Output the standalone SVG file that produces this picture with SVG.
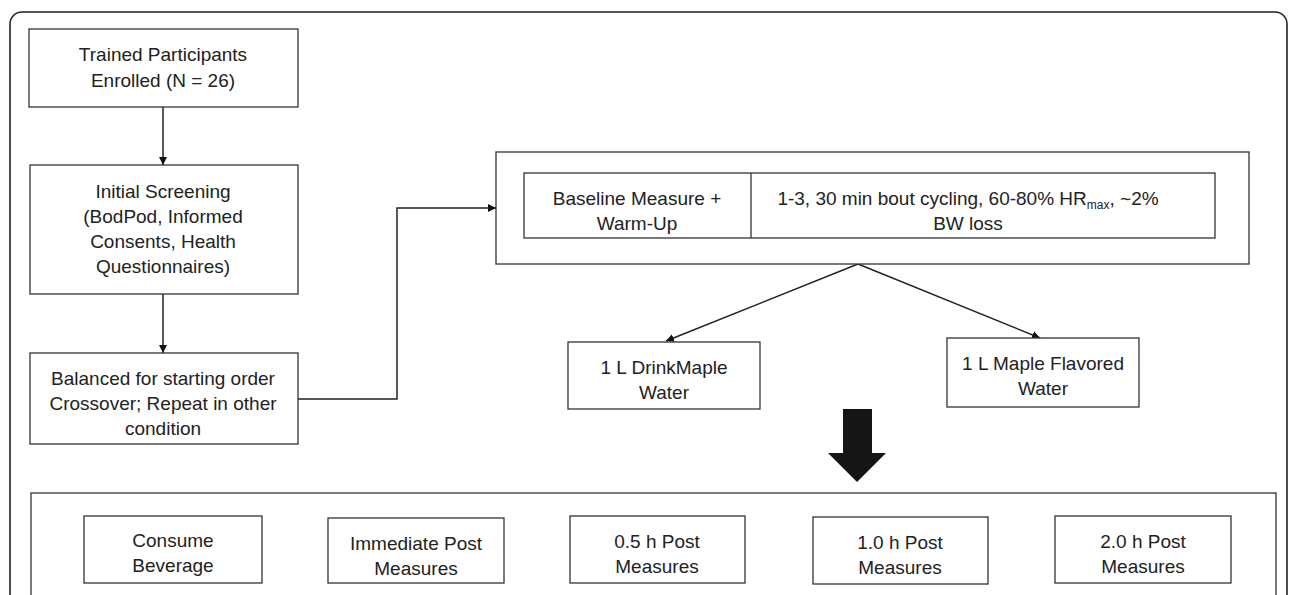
<svg xmlns="http://www.w3.org/2000/svg" width="1290" height="595" viewBox="0 0 1290 595">
<defs>
<marker id="ah" viewBox="0 0 10 10" refX="10" refY="5" markerWidth="8" markerHeight="8" markerUnits="userSpaceOnUse" orient="auto">
<path d="M0,0 L10,5 L0,10 z" fill="#111"/>
</marker>
<style>
.box{fill:#fff;stroke:#333;stroke-width:1.3}
.frame{fill:none;stroke:#222;stroke-width:1.6}
.con{fill:none;stroke:#222;stroke-width:1.5}
text{font-family:"Liberation Sans",Arial,sans-serif;font-size:19px;fill:#222;text-anchor:middle}
</style>
</defs>
<rect width="1290" height="595" fill="#fff"/>
<rect class="frame" x="10" y="12" width="1277" height="620" rx="12"/>

<g id="connectors">
<line class="con" x1="163" y1="107" x2="163" y2="165" marker-end="url(#ah)"/>
<line class="con" x1="163" y1="294" x2="163" y2="353" marker-end="url(#ah)"/>
<polyline class="con" points="298,399 397,399 397,208 496,208" marker-end="url(#ah)"/>
<line class="con" x1="858" y1="264" x2="666" y2="341" marker-end="url(#ah)"/>
<line class="con" x1="858" y1="264" x2="1040" y2="338" marker-end="url(#ah)"/>
<path id="bigArrow" d="M843,409 H872 V453 H886 L857,482 L828,453 H843 Z" fill="#151515"/>
</g>

<g id="enrolled">
<rect class="box" x="29" y="29" width="269" height="78"/>
<text x="163" y="61">Trained Participants</text>
<text x="163" y="87">Enrolled (N = 26)</text>
</g>

<g id="screening">
<rect class="box" x="30" y="165" width="268" height="129"/>
<text x="163" y="198">Initial Screening</text>
<text x="163" y="223">(BodPod, Informed</text>
<text x="163" y="248">Consents, Health</text>
<text x="163" y="273">Questionnaires)</text>
</g>

<g id="balanced">
<rect class="box" x="30" y="353" width="268" height="91"/>
<text x="163" y="385">Balanced for starting order</text>
<text x="163" y="410">Crossover; Repeat in other</text>
<text x="163" y="435">condition</text>
</g>

<g id="protocol">
<rect class="box" x="496" y="152" width="753" height="112"/>
<rect class="box" x="524" y="173" width="691" height="65"/>
<line x1="751" y1="173" x2="751" y2="238" stroke="#333" stroke-width="1.3"/>
<text x="637" y="205">Baseline Measure +</text>
<text x="637" y="230">Warm-Up</text>
<text x="968" y="205">1-3, 30 min bout cycling, 60-80% HR<tspan font-size="12" dy="4">max</tspan><tspan dy="-4">, ~2%</tspan></text>
<text x="968" y="230">BW loss</text>
</g>

<g id="drinkmaple">
<rect class="box" x="568" y="342" width="192" height="67"/>
<text x="664" y="374">1 L DrinkMaple</text>
<text x="664" y="399">Water</text>
</g>

<g id="flavored">
<rect class="box" x="947" y="338" width="192" height="69"/>
<text x="1043" y="370">1 L Maple Flavored</text>
<text x="1043" y="395">Water</text>
</g>

<g id="timeline">
<rect class="box" x="31" y="493" width="1245" height="130"/>
</g>

<g id="consume">
<rect class="box" x="84" y="516" width="178" height="67"/>
<text x="173" y="547">Consume</text>
<text x="173" y="572">Beverage</text>
</g>

<g id="immediate">
<rect class="box" x="328" y="518" width="176" height="65"/>
<text x="416" y="550">Immediate Post</text>
<text x="416" y="575">Measures</text>
</g>

<g id="h05">
<rect class="box" x="570" y="516" width="175" height="67"/>
<text x="657" y="548">0.5 h Post</text>
<text x="657" y="573">Measures</text>
</g>

<g id="h10">
<rect class="box" x="813" y="517" width="175" height="67"/>
<text x="900" y="549">1.0 h Post</text>
<text x="900" y="574">Measures</text>
</g>

<g id="h20">
<rect class="box" x="1055" y="516" width="176" height="67"/>
<text x="1143" y="548">2.0 h Post</text>
<text x="1143" y="573">Measures</text>
</g>
</svg>
